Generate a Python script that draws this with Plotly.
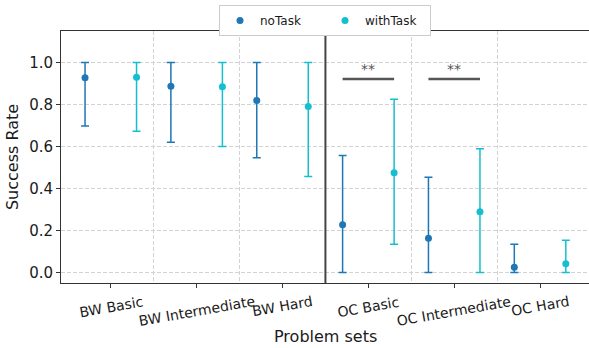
import plotly.graph_objects as go

categories = ["BW Basic", "BW Intermediate", "BW Hard", "OC Basic", "OC Intermediate", "OC Hard"]

no_task_mean = [0.927, 0.887, 0.819, 0.227, 0.163, 0.025]
no_task_low = [0.698, 0.620, 0.546, 0.0, 0.0, 0.0]
no_task_high = [1.0, 1.0, 1.0, 0.557, 0.454, 0.135]

with_task_mean = [0.930, 0.884, 0.790, 0.475, 0.289, 0.042]
with_task_low = [0.673, 0.600, 0.457, 0.135, 0.0, 0.0]
with_task_high = [1.0, 1.0, 1.0, 0.825, 0.589, 0.153]

sig_categories = ["OC Basic", "OC Intermediate"]
sig_labels = ["**", "**"]
sig_y = 0.922

y_ticks = [0.0, 0.2, 0.4, 0.6, 0.8, 1.0]

FONT = "DejaVu Sans"
BLUE = "#1f77b4"
CYAN = "#17becf"
OFFSET = 0.3
GRID = "#d3d3d3"

idx = list(range(len(categories)))

fig = go.Figure()


def add_series(name, mean, low, high, color, off):
    fig.add_trace(go.Scatter(
        x=[i + off for i in idx],
        y=mean,
        mode="markers",
        name=name,
        marker=dict(color=color, size=7),
        error_y=dict(
            type="data",
            symmetric=False,
            array=[h - m for h, m in zip(high, mean)],
            arrayminus=[m - l for m, l in zip(mean, low)],
            color=color,
            thickness=1.5,
            width=4,
        ),
    ))


add_series("noTask", no_task_mean, no_task_low, no_task_high, BLUE, -OFFSET)
add_series("withTask", with_task_mean, with_task_low, with_task_high, CYAN, OFFSET)

shapes = []
annotations = []

# group divider between BW and OC sets
shapes.append(dict(type="line", xref="x", yref="paper", x0=2.5, x1=2.5, y0=0, y1=1,
                   line=dict(color="#444444", width=2)))

# significance markers
for cat, lab in zip(sig_categories, sig_labels):
    i = categories.index(cat)
    shapes.append(dict(type="line", xref="x", yref="y", x0=i - OFFSET, x1=i + OFFSET,
                       y0=sig_y, y1=sig_y, line=dict(color="#555555", width=2.5)))
    annotations.append(dict(x=i, y=sig_y, xref="x", yref="y", text=lab, showarrow=False,
                            yanchor="bottom", yshift=0,
                            font=dict(family=FONT, size=14, color="#555555")))

# rotated, centred category labels
for i, cat in enumerate(categories):
    annotations.append(dict(x=i, y=0, xref="x", yref="paper", text=cat, showarrow=False,
                            textangle=-10, xanchor="center", yanchor="top", yshift=-8,
                            font=dict(family=FONT, size=14, color="#1a1a1a")))

# x axis title
annotations.append(dict(x=0.5, y=0, xref="paper", yref="paper", text="Problem sets",
                        showarrow=False, xanchor="center", yanchor="middle", yshift=-53,
                        font=dict(family=FONT, size=16, color="#1a1a1a")))

fig.update_layout(
    width=589,
    height=348,
    margin=dict(l=61, r=0, t=31, b=65),
    paper_bgcolor="white",
    plot_bgcolor="white",
    font=dict(family=FONT, color="#1a1a1a"),
    showlegend=True,
    legend=dict(
        orientation="h",
        x=0.5, xanchor="center",
        y=1.103, yanchor="top",
        entrywidth=60,
        entrywidthmode="pixels",
        bordercolor="#cccccc", borderwidth=1,
        bgcolor="white",
        font=dict(family=FONT, size=12, color="#1a1a1a"),
    ),
    shapes=shapes,
    annotations=annotations,
    xaxis=dict(
        range=[-0.58, 5.57],
        tickmode="array",
        tickvals=idx,
        showticklabels=False,
        ticks="outside",
        ticklen=4,
        tickcolor="#333333",
        showgrid=False,
        zeroline=False,
        showline=True,
        linecolor="#333333",
        linewidth=1,
        mirror=True,
        minor=dict(tickvals=[0.5, 1.5, 2.5, 3.5, 4.5], showgrid=True,
                   gridcolor=GRID, griddash="4px,2px", gridwidth=0.8, ticks=""),
    ),
    yaxis=dict(
        range=[-0.05, 1.15],
        tickmode="array",
        tickvals=y_ticks,
        tickformat=".1f",
        ticks="outside",
        ticklen=4,
        tickcolor="#333333",
        tickfont=dict(family=FONT, size=15, color="#1a1a1a"),
        showgrid=True,
        gridcolor=GRID,
        griddash="4px,2px",
        gridwidth=0.8,
        zeroline=False,
        showline=True,
        linecolor="#333333",
        linewidth=1,
        title=dict(text="Success Rate", font=dict(family=FONT, size=16, color="#1a1a1a"),
                   standoff=6),
    ),
)

fig.write_html("out.html")
